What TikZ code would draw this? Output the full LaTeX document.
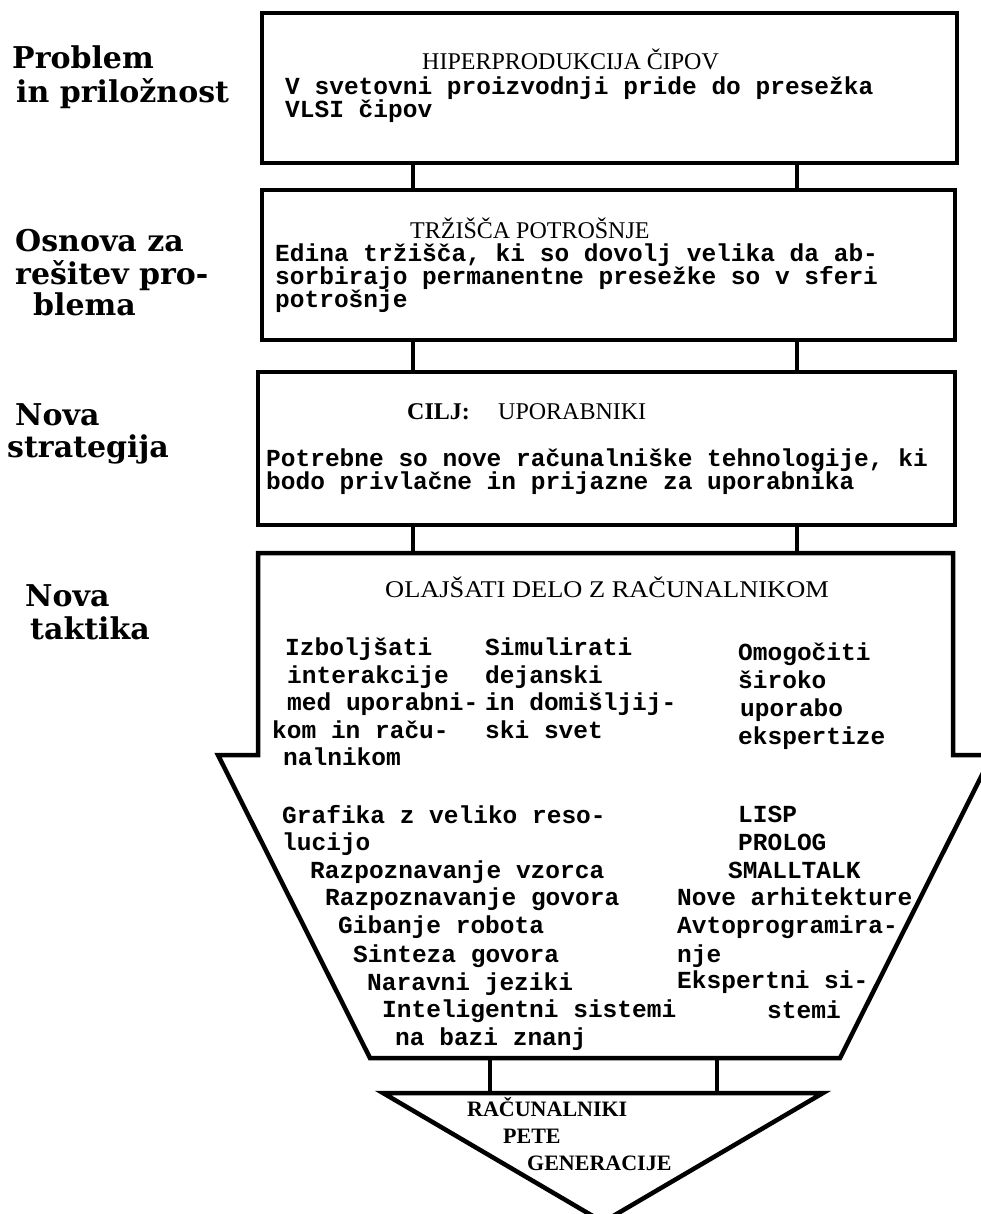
\documentclass[tikz,border=0pt]{standalone}
\usepackage{fontspec}
\newfontfamily\monof{Liberation Mono}
\newfontfamily\hdrf{Liberation Serif}
\newfontfamily\lblf{DejaVu Serif}
\tikzset{
  frame/.style={draw=black, line width=4.5pt, line join=miter},
  conn/.style={draw=black, line width=4.5pt},
  boxnode/.style={frame, anchor=north west, inner sep=0pt, outer sep=0pt},
  tx/.style={font=\monof\bfseries\fontsize{24.5}{25}\selectfont, anchor=base west, inner sep=0pt},
  hd/.style={font=\hdrf\fontsize{24}{25}\selectfont, anchor=base west, inner sep=0pt},
  tri/.style={font=\hdrf\bfseries\fontsize{22}{25}\selectfont, anchor=base west, inner sep=0pt},
  lbl/.style={font=\lblf\bfseries\fontsize{30}{34}\selectfont, anchor=base west, inner sep=0pt},
}
\begin{document}
\begin{tikzpicture}[x=1pt,y=-1pt]
\fill[white] (0,0) rectangle (981,1214);
\useasboundingbox (0,0) rectangle (981,1214);

% left labels
\node[lbl] (l1a) at (12,69) {Problem};
\node[lbl] (l1b) at (16,103) {in priložnost};
\node[lbl] (l2a) at (15,252) {Osnova za};
\node[lbl] (l2b) at (15,284) {rešitev pro-};
\node[lbl] (l2c) at (33,316) {blema};
\node[lbl] (l3a) at (15,425) {Nova};
\node[lbl] (l3b) at (7,457) {strategija};
\node[lbl] (l4a) at (25,606) {Nova};
\node[lbl] (l4b) at (30,639) {taktika};

% boxes
\node[boxnode, minimum width=695pt, minimum height=150pt] (b1) at (262,13) {};
\node[boxnode, minimum width=693pt, minimum height=150pt] (b2) at (262,190) {};
\node[boxnode, minimum width=697pt, minimum height=153pt] (b3) at (258,372) {};
\coordinate (a4) at (605,553);
\coordinate (a4b) at (605,1058);
\coordinate (t5) at (603,1093);
\draw[frame] (258,553) -- (258,755) -- (218,755) -- (370,1058) -- (840,1058)
  -- (992,755) -- (953,755) -- (953,553) -- cycle;
\draw[frame] (383,1093) -- (823,1093) -- (603,1222) -- cycle;

% connectors
\coordinate (xa) at (413,0);
\coordinate (xb) at (797,0);
\coordinate (xc) at (490,0);
\coordinate (xd) at (717,0);
\draw[conn] (b1.south -| xa) -- (b2.north -| xa);
\draw[conn] (b1.south -| xb) -- (b2.north -| xb);
\draw[conn] (b2.south -| xa) -- (b3.north -| xa);
\draw[conn] (b2.south -| xb) -- (b3.north -| xb);
\draw[conn] (b3.south -| xa) -- (a4 -| xa);
\draw[conn] (b3.south -| xb) -- (a4 -| xb);
\draw[conn] (a4b -| xc) -- (t5 -| xc);
\draw[conn] (a4b -| xd) -- (t5 -| xd);

% box 1
\node[hd] (h1) at (422,70) {HIPERPRODUKCIJA ČIPOV};
\node[tx] (p1a) at (285,95) {V svetovni proizvodnji pride do presežka};
\node[tx] (p1b) at (285,118) {VLSI čipov};
% box 2
\node[hd] (h2) at (410,239) {TRŽIŠČA POTROŠNJE};
\node[tx] (p2a) at (275,262) {Edina tržišča, ki so dovolj velika da ab-};
\node[tx] (p2b) at (275,285) {sorbirajo permanentne presežke so v sferi};
\node[tx] (p2c) at (275,308) {potrošnje};
% box 3
\node[hd, font=\hdrf\bfseries\fontsize{24}{25}\selectfont] (h3a) at (407,419) {CILJ:};
\node[hd] (h3b) at (498,419) {UPORABNIKI};
\node[tx] (p3a) at (266,466) {Potrebne so nove računalniške tehnologije, ki};
\node[tx] (p3b) at (266,489) {bodo privlačne in prijazne za uporabnika};
% box 4
\node[hd] (h4) at (385,597) {\scalebox{1.1}[1]{OLAJŠATI DELO Z RAČUNALNIKOM}};
\node[tx] (c1a) at (285,655) {Izboljšati};
\node[tx] (c1b) at (287,683) {interakcije};
\node[tx] (c1c) at (287,710) {med uporabni-};
\node[tx] (c1d) at (272,738) {kom in raču-};
\node[tx] (c1e) at (283,765) {nalnikom};
\node[tx] (c2a) at (485,655) {Simulirati};
\node[tx] (c2b) at (485,683) {dejanski};
\node[tx] (c2c) at (485,710) {in domišljij-};
\node[tx] (c2d) at (485,738) {ski svet};
\node[tx] (c3a) at (738,660) {Omogočiti};
\node[tx] (c3b) at (738,688) {široko};
\node[tx] (c3c) at (740,716) {uporabo};
\node[tx] (c3d) at (738,744) {ekspertize};
% lower left
\node[tx] (d1) at (282,823) {Grafika z veliko reso-};
\node[tx] (d2) at (282,850) {lucijo};
\node[tx] (d3) at (310,878) {Razpoznavanje vzorca};
\node[tx] (d4) at (325,905) {Razpoznavanje govora};
\node[tx] (d5) at (338,933) {Gibanje robota};
\node[tx] (d6) at (353,962) {Sinteza govora};
\node[tx] (d7) at (367,990) {Naravni jeziki};
\node[tx] (d8) at (382,1017) {Inteligentni sistemi};
\node[tx] (d9) at (395,1045) {na bazi znanj};
% lower right
\node[tx] (e1) at (738,822) {LISP};
\node[tx] (e2) at (738,850) {PROLOG};
\node[tx] (e3) at (728,878) {SMALLTALK};
\node[tx] (e4) at (677,905) {Nove arhitekture};
\node[tx] (e5) at (677,933) {Avtoprogramira-};
\node[tx] (e6) at (677,962) {nje};
\node[tx] (e7) at (677,988) {Ekspertni si-};
\node[tx] (e8) at (767,1018) {stemi};
% triangle
\node[tri] (f1) at (467,1116) {RAČUNALNIKI};
\node[tri] (f2) at (503,1143) {PETE};
\node[tri] (f3) at (527,1170) {GENERACIJE};
\end{tikzpicture}
\end{document}
